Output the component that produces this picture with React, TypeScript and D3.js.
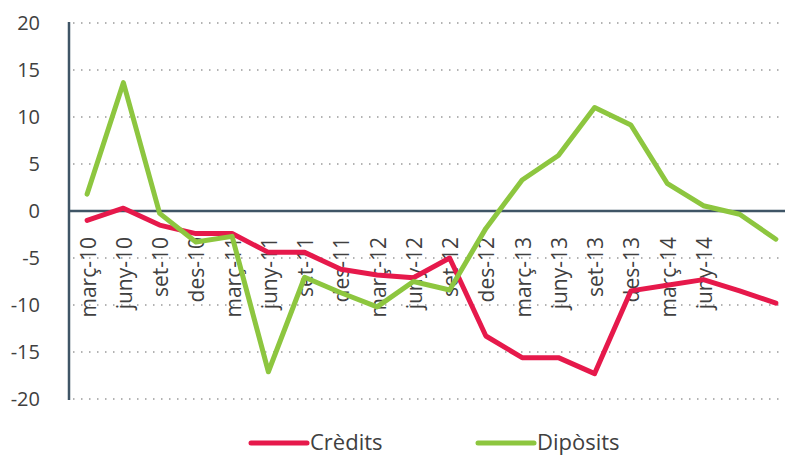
import React from "react";
import * as d3 from "d3";

// quarterly series, % change
const categories = [
  "març-10", "juny-10", "set-10", "des-10",
  "març-11", "juny-11", "set-11", "des-11",
  "març-12", "juny-12", "set-12", "des-12",
  "març-13", "juny-13", "set-13", "des-13",
  "març-14", "juny-14", "set-14", "des-14",
];
// last two quarters have no label in the original
const tickLabels = categories.map((c, i) => (i < 18 ? c : ""));

const credits = [
  -1.0, 0.3, -1.5, -2.4, -2.4, -4.4, -4.4, -6.2, -6.8, -7.1,
  -5.0, -13.3, -15.6, -15.6, -17.3, -8.5, -7.9, -7.3, -8.5, -9.8,
];
const diposits = [
  1.8, 13.65, -0.25, -3.3, -2.7, -17.1, -7.05, -8.7, -10.2, -7.5,
  -8.4, -1.85, 3.3, 5.9, 11.0, 9.15, 2.95, 0.56, -0.35, -3.0,
];
const yTicks = [20, 15, 10, 5, 0, -5, -10, -15, -20];

const seriesNames = ["Crèdits", "Dipòsits"];
const colors = ["#e6194b", "#8dc63f"];

const W = 785;
const H = 456;
const left = 69;
const right = 794; // plot runs past the window edge like the original
const top = 23;
const bottom = 399;
const axisColor = "#3f5566";
const font = "'Open Sans', 'Noto Sans', sans-serif";

export default function App() {
  const x = d3.scalePoint<string>().domain(categories).range([left, right]).padding(0.5);
  const y = d3.scaleLinear().domain([-20, 20]).range([bottom, top]);

  const line = d3
    .line<number>()
    .x((_, i) => x(categories[i]) as number)
    .y((d) => y(d));

  const all = [credits, diposits];

  return (
    <svg width={W} height={H} style={{ display: "block", position: "absolute", left: 0, top: 0 }}>
      {/* dotted gridlines */}
      {yTicks
        .filter((t) => t !== 0)
        .map((t) => (
          <line
            key={"g" + t}
            x1={left + 4}
            x2={W}
            y1={y(t)}
            y2={y(t)}
            stroke="#9a9a9a"
            strokeWidth={1.5}
            strokeDasharray="1.5,6.5"
          />
        ))}

      {/* y tick labels */}
      {yTicks.map((t) => (
        <text
          key={"t" + t}
          x={40}
          y={y(t)}
          dy="0.36em"
          textAnchor="end"
          fontFamily={font}
          fontSize={20}
          fill="#404040"
        >
          {t}
        </text>
      ))}

      {/* axes */}
      <line x1={left} x2={left} y1={top - 1} y2={bottom + 1} stroke={axisColor} strokeWidth={2.5} />
      <line x1={left} x2={W} y1={y(0)} y2={y(0)} stroke={axisColor} strokeWidth={2.5} />

      {/* x tick labels, rotated */}
      {categories.map((c, i) => (
        <text
          key={"x" + c}
          transform={`translate(${(x(c) as number) + 1},237) rotate(-90)`}
          dy="0.36em"
          textAnchor="end"
          fontFamily={font}
          fontSize={21}
          fill="#404040"
        >
          {tickLabels[i]}
        </text>
      ))}

      {/* series */}
      {all.map((s, i) => (
        <path
          key={"s" + i}
          d={line(s) || ""}
          fill="none"
          stroke={colors[i]}
          strokeWidth={5}
          strokeLinejoin="round"
          strokeLinecap="round"
        />
      ))}

      {/* legend */}
      {seriesNames.map((n, i) => {
        const lx = i === 0 ? 251 : 478;
        return (
          <g key={"l" + n}>
            <line
              x1={lx}
              x2={lx + 56}
              y1={443}
              y2={443}
              stroke={colors[i]}
              strokeWidth={5}
              strokeLinecap="round"
            />
            <text x={lx + 59} y={450} fontFamily={font} fontSize={22} fill="#404040">
              {n}
            </text>
          </g>
        );
      })}
    </svg>
  );
}
